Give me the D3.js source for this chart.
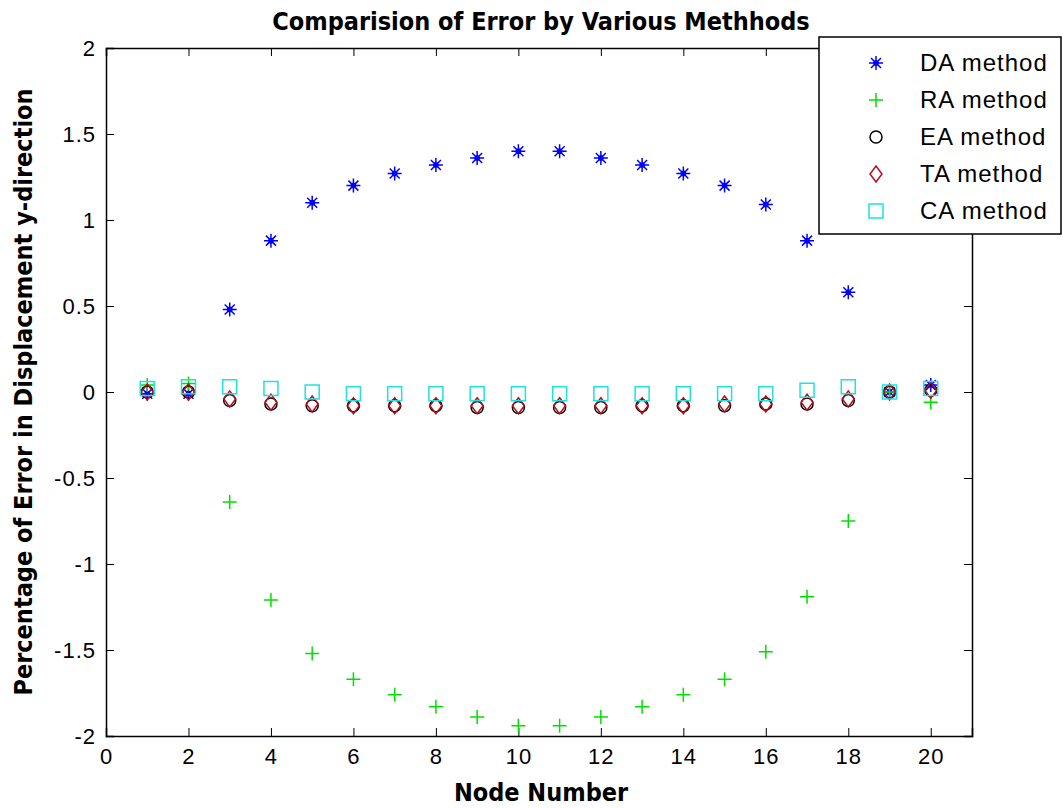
<!DOCTYPE html>
<html>
  <head>
    <title>D3</title>
    <script src="https://cdn.jsdelivr.net/npm/d3@7"></script>
    <style>
      body {
        margin: 0;
        background: white;
      }
      svg text {
        font-family: "Liberation Sans", Arial, sans-serif;
      }
      .bold {
        font-family: "Liberation Sans Narrow", "DejaVu Sans Condensed", sans-serif !important;
        font-weight: bold;
      }
    </style>
  </head>
  <body>
    <script>
    // node numbers
    var nodes = [1, 2, 3, 4, 5, 6, 7, 8, 9, 10, 11, 12, 13, 14, 15, 16, 17, 18, 19, 20];

    var daValues = [-0.01, -0.01, 0.48, 0.88, 1.10, 1.20, 1.27, 1.32, 1.36, 1.40, 1.40, 1.36, 1.32, 1.27, 1.20, 1.09, 0.88, 0.58, 0.0, 0.04];
    var raValues = [0.04, 0.05, -0.64, -1.21, -1.52, -1.67, -1.76, -1.83, -1.89, -1.94, -1.94, -1.89, -1.83, -1.76, -1.67, -1.51, -1.19, -0.75, 0.0, -0.06];
    var eaValues = [0.0, 0.0, -0.05, -0.07, -0.08, -0.08, -0.08, -0.08, -0.09, -0.09, -0.09, -0.09, -0.08, -0.08, -0.08, -0.07, -0.07, -0.05, 0.0, 0.01];
    var taValues = [0.0, 0.0, -0.04, -0.06, -0.07, -0.08, -0.08, -0.08, -0.08, -0.08, -0.08, -0.08, -0.08, -0.08, -0.07, -0.07, -0.06, -0.04, 0.0, 0.01];
    var caValues = [0.02, 0.03, 0.03, 0.02, 0.0, -0.01, -0.01, -0.01, -0.01, -0.01, -0.01, -0.01, -0.01, -0.01, -0.01, -0.01, 0.01, 0.03, 0.0, 0.02];

    var seriesNames = ["DA method", "RA method", "EA method", "TA method", "CA method"];
    var seriesColors = ["#0000ff", "#00e000", "#000000", "#b01020", "#20e0e0"];
    var seriesMarkers = ["star", "plus", "circle", "diamond", "square"];
    var seriesValues = [daValues, raValues, eaValues, taValues, caValues];

    var xTicks = [0, 2, 4, 6, 8, 10, 12, 14, 16, 18, 20];
    var yTicks = [-2, -1.5, -1, -0.5, 0, 0.5, 1, 1.5, 2];

    var width = 1063, height = 808;
    var margin = {left: 106, right: 91, top: 48, bottom: 72};

    var x = d3.scaleLinear().domain([0, 21]).range([margin.left, width - margin.right]);
    var y = d3.scaleLinear().domain([-2, 2]).range([height - margin.bottom, margin.top]);

    function markerPath (type) {
      var r = 7;
      switch (type) {
        case "star":
          return "M" + (-r) + ",0H" + r + "M0," + (-r) + "V" + r +
            "M-5,-5L5,5M-5,5L5,-5M-2,-2H2V2H-2Z";
        case "plus":
          return "M" + (-r) + ",0H" + r + "M0," + (-r) + "V" + r;
        case "circle":
          return d3.symbol().type(d3.symbolCircle).size(Math.PI * 6 * 6)();
        case "diamond":
          return "M0," + (-r - 1) + "L" + (r - 1) + ",0L0," + (r + 1) + "L" + (-r + 1) + ",0Z";
        case "square":
          return "M-7,-7H7V7H-7Z";
      }
    }

    var svg = d3.select("body").append("svg")
      .attr("width", width)
      .attr("height", height);

    svg.append("rect")
      .attr("width", width).attr("height", height)
      .style("fill", "white");

    // axes, ticks inside on all four sides
    svg.append("g")
      .attr("transform", "translate(0," + y(-2) + ")")
      .call(d3.axisBottom(x).tickValues(xTicks).tickSize(-8).tickPadding(12).tickFormat(d3.format("d")));
    svg.append("g")
      .attr("transform", "translate(0," + y(2) + ")")
      .call(d3.axisTop(x).tickValues(xTicks).tickSize(-8).tickFormat(""));
    svg.append("g")
      .attr("transform", "translate(" + x(0) + ",0)")
      .call(d3.axisLeft(y).tickValues(yTicks).tickSize(-8).tickPadding(10).tickFormat(function (d) { return d; }));
    svg.append("g")
      .attr("transform", "translate(" + x(21) + ",0)")
      .call(d3.axisRight(y).tickValues(yTicks).tickSize(-8).tickFormat(""));

    svg.selectAll(".domain").style("stroke", "black").style("stroke-width", 1.5);
    svg.selectAll(".tick line").style("stroke", "black");
    svg.selectAll(".tick text")
      .style("font-size", "22px")
      .style("letter-spacing", "1px")
      .style("fill", "black");

    // markers
    for (var s = 0; s < seriesValues.length; s++) {
      svg.append("g").selectAll("path")
        .data(seriesValues[s])
        .enter().append("path")
        .attr("transform", function (d, i) { return "translate(" + x(nodes[i]) + "," + y(d) + ")"; })
        .attr("d", markerPath(seriesMarkers[s]))
        .style("fill", "none")
        .style("stroke", seriesColors[s])
        .style("stroke-width", 1.5);
    }

    // titles
    svg.append("text")
      .attr("class", "bold")
      .attr("x", 541).attr("y", 30)
      .attr("text-anchor", "middle")
      .style("font-size", "25px")
      .text("Comparision of Error by Various Methhods");

    svg.append("text")
      .attr("class", "bold")
      .attr("x", 541).attr("y", 801)
      .attr("text-anchor", "middle")
      .style("font-size", "25px")
      .text("Node Number");

    svg.append("text")
      .attr("class", "bold")
      .attr("transform", "translate(32," + y(0) + ") rotate(-90)")
      .attr("text-anchor", "middle")
      .style("font-size", "25px")
      .text("Percentage of Error in Displacement y-direction");

    // legend
    var legend = svg.append("g");
    legend.append("rect")
      .attr("x", 819).attr("y", 37)
      .attr("width", 242).attr("height", 197)
      .style("fill", "white")
      .style("stroke", "black")
      .style("stroke-width", 1.5);

    var rows = legend.selectAll(".row")
      .data(seriesNames)
      .enter().append("g")
      .attr("transform", function (d, i) { return "translate(0," + (63 + i * 37) + ")"; });

    rows.append("path")
      .attr("transform", "translate(876,0)")
      .attr("d", function (d, i) { return markerPath(seriesMarkers[i]); })
      .style("fill", "none")
      .style("stroke", function (d, i) { return seriesColors[i]; })
      .style("stroke-width", 1.5);

    rows.append("text")
      .attr("x", 920).attr("y", 8)
      .style("font-size", "24px")
      .style("letter-spacing", "1px")
      .text(function (d) { return d; });
    </script>
  </body>
</html>
